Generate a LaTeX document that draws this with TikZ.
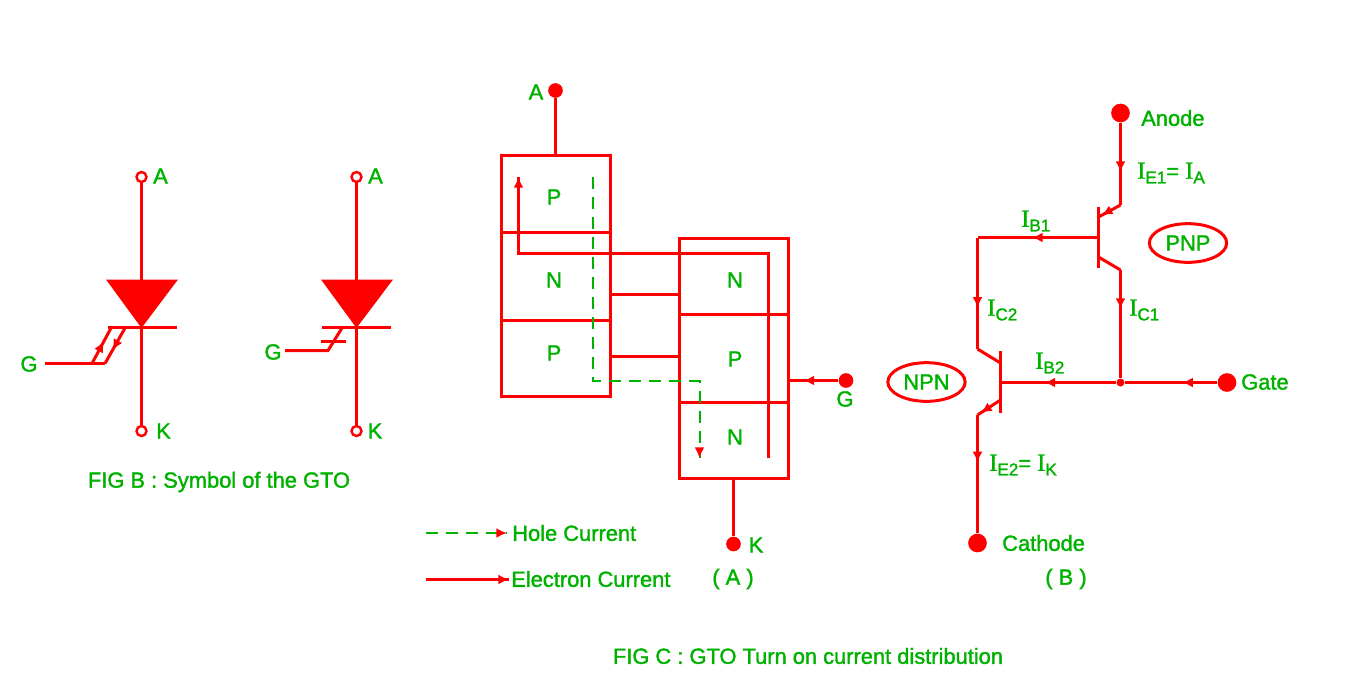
\documentclass[tikz,border=0pt]{standalone}
\usepackage{fontspec}
\setmainfont{Liberation Sans}[FakeBold=1.6]
\newfontfamily\timesfont{Liberation Serif}[FakeBold=1.2]
\usetikzlibrary{arrows.meta}
\usetikzlibrary{decorations.markings}
\usetikzlibrary{shapes.geometric}
\definecolor{lblgreen}{RGB}{0,178,0}
\newcommand{\Isub}[1]{{\timesfont\fontsize{18.5}{18}\selectfont I}\raisebox{-3.5pt}{\fontsize{12.8}{12}\selectfont #1}}
\tikzset{
wire/.style={draw=red,line width=2.25pt,line join=miter},
thin wire/.style={draw=red,line width=2.25pt},
hole wire/.style={draw=lblgreen,line width=1.5pt,dash pattern=on 9pt off 6pt},
tip at/.style={
    postaction={
        decorate,decoration={
            markings,mark=at position #1 with {\arrow{Latex[red,length=8pt,width=7.5pt]}}
        }
    }
},
lbl/.style={text=lblgreen,inner sep=0pt,font=\fontsize{16.4}{18}\selectfont},
open term/.style={circle,draw=red,line width=1.8pt,fill=white,inner sep=0pt,minimum size=7.5pt},
big term/.style={circle,fill=red,inner sep=0pt,minimum size=#1},
big term/.default=11pt,
oval/.style={ellipse,draw=red,line width=2.25pt,inner sep=0pt,minimum width=58pt,minimum height=29pt,text=lblgreen,font=\fontsize{16.4}{18}\selectfont},
}
\begin{document}
\begin{tikzpicture}[x=0.75pt,y=-0.75pt]
		\useasboundingbox (0,0) rectangle (1347,683);
		\node [open term] (A1) at (141.5, 177) {};
		\node [open term] (K1) at (141.5, 431) {};
		\node (T1a) at (106, 279.5) {};
		\node (T1b) at (178, 279.5) {};
		\node (T1c) at (141.5, 328) {};
		\node (B1a) at (108, 327.5) {};
		\node (B1b) at (177, 327.5) {};
		\node (G1s) at (45, 363.5) {};
		\node (G1a) at (92, 363.5) {};
		\node (G1b) at (105, 363.5) {};
		\node (G1c) at (111, 328) {};
		\node (G1d) at (125, 328) {};
		\draw [wire] (A1) to (K1);
		\fill [red] (T1a.center) -- (T1b.center) -- (T1c.center) -- cycle;
		\draw [wire] (B1a.center) to (B1b.center);
		\draw [thin wire] (G1s.center) to (G1b.center);
		\draw [thin wire,tip at=0.62] (G1a.center) to (G1c.center);
		\draw [thin wire,tip at=0.62] (G1d.center) to (G1b.center);
		\node [open term] (A2) at (356.5, 177) {};
		\node [open term] (K2) at (356.5, 431) {};
		\node (T2a) at (321, 279.5) {};
		\node (T2b) at (393, 279.5) {};
		\node (T2c) at (356.5, 328) {};
		\node (B2a) at (322, 327.5) {};
		\node (B2b) at (391, 327.5) {};
		\node (G2s) at (285, 350.5) {};
		\node (G2a) at (328, 350.5) {};
		\node (G2b) at (342, 328) {};
		\node (G2c) at (321, 341.5) {};
		\node (G2d) at (346, 341.5) {};
		\draw [wire] (A2) to (K2);
		\fill [red] (T2a.center) -- (T2b.center) -- (T2c.center) -- cycle;
		\draw [wire] (B2a.center) to (B2b.center);
		\draw [thin wire] (G2s.center) to (G2a.center) to (G2b.center);
		\draw [thin wire] (G2c.center) to (G2d.center);
		\node [lbl] (lA1) at (160.5, 176) {A};
		\node [lbl] (lK1) at (163.5, 431) {K};
		\node [lbl] (lG1) at (29, 364) {G};
		\node [lbl] (lA2) at (375.5, 176) {A};
		\node [lbl] (lK2) at (375, 431) {K};
		\node [lbl] (lG2) at (273, 352) {G};
		\node [lbl] (figB) at (219, 482) {FIG B : Symbol of the GTO};

		\node [big term] (A3) at (555.5, 90.5) {};
		\node (P1a) at (501.5, 155.5) {};
		\node (P1b) at (610.5, 396.5) {};
		\node (P1t) at (555.5, 155.5) {};
		\node (L1a) at (501.5, 232.5) {};
		\node (L1b) at (610.5, 232.5) {};
		\node (L1c) at (501.5, 320.5) {};
		\node (L1d) at (610.5, 320.5) {};
		\node (P2a) at (679.5, 238.5) {};
		\node (P2b) at (788.5, 478.5) {};
		\node (L2a) at (679.5, 314.5) {};
		\node (L2b) at (788.5, 314.5) {};
		\node (L2c) at (679.5, 402.5) {};
		\node (L2d) at (788.5, 402.5) {};
		\node (P2g) at (788.5, 380.5) {};
		\node (P2k) at (733.5, 478.5) {};
		\node [big term] (G3) at (846, 380.5) {};
		\node [big term] (K3) at (733.5, 544) {};
		\node (C1a) at (610.5, 294.5) {};
		\node (C1b) at (679.5, 294.5) {};
		\node (C2a) at (610.5, 356.5) {};
		\node (C2b) at (679.5, 356.5) {};
		\node (E0) at (768.5, 458) {};
		\node (E1) at (768.5, 253.5) {};
		\node (E2) at (518.5, 253.5) {};
		\node (E3) at (518.5, 177) {};
		\node (H0) at (593, 177) {};
		\node (H1) at (593, 381) {};
		\node (H2) at (699.5, 381) {};
		\node (H3) at (699.5, 458) {};
		\draw [wire] (A3) to (P1t.center);
		\draw [wire] (P1a.center) rectangle (P1b.center);
		\draw [wire] (L1a.center) to (L1b.center);
		\draw [wire] (L1c.center) to (L1d.center);
		\draw [wire] (P2a.center) rectangle (P2b.center);
		\draw [wire] (L2a.center) to (L2b.center);
		\draw [wire] (L2c.center) to (L2d.center);
		\draw [wire] (C1a.center) to (C1b.center);
		\draw [wire] (C2a.center) to (C2b.center);
		\draw [wire,tip at=0.7] (G3) to (P2g.center);
		\draw [wire] (P2k.center) to (K3);
		\draw [wire,tip at=1] (E0.center) -- (E1.center) -- (E2.center) -- (E3.center);
		\draw [hole wire,tip at=1] (H0.center) -- (H1.center) -- (H2.center) -- (H3.center);
		\node [lbl] (lA3) at (536, 92) {A};
		\node [lbl] (lG3) at (845, 399) {G};
		\node [lbl] (lK3) at (756, 545) {K};
		\node [lbl] at (554, 197) (r1) {P};
		\node [lbl] at (554, 280) (r2) {N};
		\node [lbl] at (554, 353) (r3) {P};
		\node [lbl] at (735, 280) (r4) {N};
		\node [lbl] at (735, 359) (r5) {P};
		\node [lbl] at (735, 437) (r6) {N};
		\node (K4a) at (426, 533) {};
		\node (K4b) at (507, 533) {};
		\node (K5a) at (426, 579.5) {};
		\node (K5b) at (509, 579.5) {};
		\draw [hole wire,tip at=1] (K4a.center) to (K4b.center);
		\draw [wire,tip at=1] (K5a.center) to (K5b.center);
		\node [lbl,anchor=west] (hole) at (512, 533) {Hole Current};
		\node [lbl,anchor=west] (elec) at (511, 579) {Electron Current};
		\node [lbl] (capA) at (733, 579) {( A )};
		\node [lbl] (figC) at (808, 656) {FIG C : GTO Turn on current distribution};

		\node [big term=14pt] (Anode) at (1120.5, 113) {};
		\node [big term=14pt] (Gate) at (1227, 382.5) {};
		\node [big term=14pt] (Cath) at (977.5, 543) {};
		\node [big term=6pt] (Jn) at (1120.5, 382.5) {};
		\node (Q1a) at (1098.5, 207) {};
		\node (Q1b) at (1098.5, 268) {};
		\node (Q1e) at (1098.5, 217) {};
		\node (Q1c) at (1098.5, 257) {};
		\node (Q1d) at (1120.5, 205) {};
		\node (Q1f) at (1120.5, 270) {};
		\node (Q1g) at (1098.5, 237.5) {};
		\node (Q2a) at (1000.5, 351) {};
		\node (Q2b) at (1000.5, 413) {};
		\node (Q2c) at (1000.5, 363) {};
		\node (Q2e) at (1000.5, 400) {};
		\node (Q2g) at (1000.5, 382.5) {};
		\node (W1) at (977.5, 237.5) {};
		\node (W2) at (977.5, 349) {};
		\node (W3) at (977.5, 415) {};
		\draw [wire,tip at=0.6] (Anode) to (Q1d.center);
		\draw [wire,tip at=0.85] (Q1d.center) to (Q1e.center);
		\draw [wire] (Q1a.center) to (Q1b.center);
		\draw [wire] (Q1c.center) to (Q1f.center);
		\draw [wire,tip at=0.36] (Q1f.center) to (Jn);
		\draw [wire,tip at=0.55] (Q1g.center) to (W1.center);
		\draw [wire,tip at=0.63] (W1.center) to (W2.center);
		\draw [wire] (W2.center) to (Q2c.center);
		\draw [wire] (Q2a.center) to (Q2b.center);
		\draw [wire,tip at=0.85] (Q2e.center) to (W3.center);
		\draw [wire,tip at=0.4] (W3.center) to (Cath);
		\draw [wire,tip at=0.62] (Jn) to (Q2g.center);
		\draw [wire,tip at=0.38] (Gate) to (Jn);
		\node [oval] (pnp) at (1188, 243) {PNP};
		\node [oval] (npn) at (926.5, 382) {NPN};
		\node [lbl,anchor=west] (lAnode) at (1141, 118) {Anode};
		\node [lbl,anchor=west] (lGate) at (1241, 382) {Gate};
		\node [lbl,anchor=west] (lCath) at (1002, 543) {Cathode};
		\node [lbl] (capB) at (1066, 579) {( B )};
		\node [lbl,anchor=west] (iE1) at (1137, 173) {\Isub{E1}= \Isub{A}};
		\node [lbl,anchor=west] (iB1) at (1021, 221) {\Isub{B1}};
		\node [lbl,anchor=west] (iC2) at (987, 310) {\Isub{C2}};
		\node [lbl,anchor=west] (iC1) at (1129, 310) {\Isub{C1}};
		\node [lbl,anchor=west] (iB2) at (1035, 363) {\Isub{B2}};
		\node [lbl,anchor=west] (iE2) at (989, 465) {\Isub{E2}= \Isub{K}};
	\end{tikzpicture}
\end{document}
